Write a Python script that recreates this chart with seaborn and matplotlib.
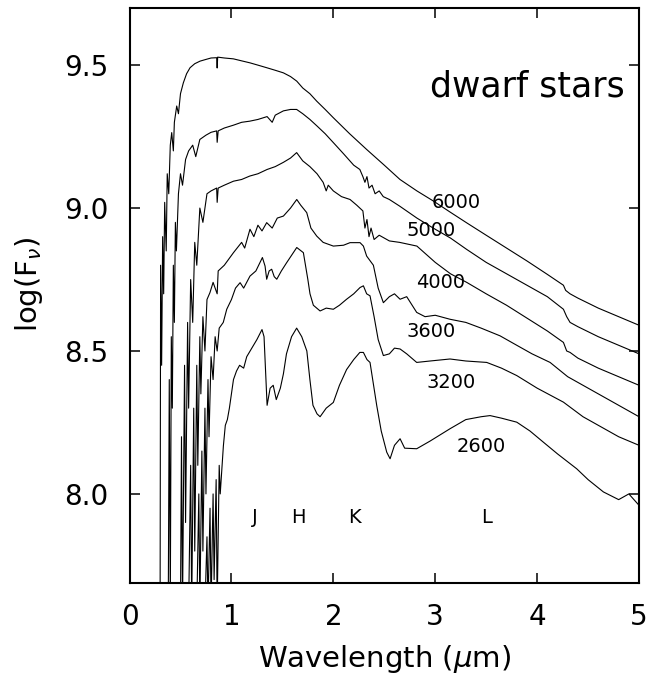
import matplotlib
matplotlib.use("Agg")
import matplotlib.pyplot as plt
import seaborn as sns
import pandas as pd

# Spectra of dwarf stars (log F_nu vs wavelength in um)
temps = ["6000", "5000", "4000", "3600", "3200", "2600"]

x_6000 = [0.30, 0.305, 0.315, 0.325, 0.335, 0.345, 0.36, 0.37, 0.385, 0.40, 0.414, 0.43, 0.44, 0.463,
          0.48, 0.50, 0.528, 0.56, 0.594, 0.64, 0.692, 0.75, 0.80, 0.855, 0.86, 0.865, 0.93, 1.019,
          1.10, 1.182, 1.26, 1.346, 1.43, 1.51, 1.58, 1.641, 1.70, 1.77, 1.837, 1.92, 2.00, 2.16,
          2.327, 2.50, 2.654, 2.82, 2.98, 3.15, 3.31, 3.50, 3.70, 3.90, 4.10, 4.258, 4.28, 4.323,
          4.40, 4.60, 4.80, 5.00]
y_6000 = [7.60, 8.80, 8.45, 8.90, 8.70, 9.02, 8.85, 9.12, 9.05, 9.22, 9.264, 9.20, 9.30, 9.357,
          9.33, 9.40, 9.438, 9.47, 9.491, 9.505, 9.514, 9.52, 9.525, 9.526, 9.49, 9.528, 9.525, 9.522,
          9.515, 9.508, 9.50, 9.491, 9.482, 9.473, 9.46, 9.444, 9.42, 9.40, 9.374, 9.345, 9.316, 9.26,
          9.205, 9.15, 9.10, 9.06, 9.025, 8.985, 8.948, 8.905, 8.86, 8.815, 8.768, 8.73, 8.712, 8.70,
          8.685, 8.65, 8.62, 8.59]

x_5000 = [0.38, 0.39, 0.40, 0.41, 0.42, 0.43, 0.44, 0.45, 0.46, 0.48, 0.50, 0.52, 0.55, 0.58,
          0.62, 0.65, 0.69, 0.75, 0.80, 0.855, 0.86, 0.87, 0.93, 1.02, 1.10, 1.18, 1.26, 1.35,
          1.40, 1.43, 1.51, 1.58, 1.64, 1.70, 1.77, 1.84, 1.92, 2.00, 2.10, 2.20, 2.26, 2.29,
          2.31, 2.33, 2.35, 2.38, 2.41, 2.45, 2.49, 2.55, 2.65, 2.82, 2.98, 3.15, 3.31, 3.50,
          3.70, 3.90, 4.10, 4.258, 4.29, 4.323, 4.40, 4.60, 4.80, 5.00]
y_5000 = [7.60, 8.40, 7.60, 8.55, 8.30, 8.80, 8.60, 8.95, 8.85, 9.05, 9.12, 9.08, 9.17, 9.20,
          9.22, 9.18, 9.24, 9.255, 9.265, 9.27, 9.23, 9.27, 9.28, 9.29, 9.30, 9.304, 9.31, 9.32,
          9.30, 9.325, 9.34, 9.345, 9.345, 9.33, 9.31, 9.287, 9.26, 9.229, 9.19, 9.15, 9.135, 9.11,
          9.09, 9.11, 9.07, 9.08, 9.05, 9.06, 9.04, 9.03, 9.007, 8.965, 8.93, 8.895, 8.855, 8.81,
          8.77, 8.73, 8.69, 8.646, 8.62, 8.60, 8.585, 8.55, 8.52, 8.49]

x_4000 = [0.50, 0.51, 0.52, 0.54, 0.55, 0.57, 0.58, 0.60, 0.62, 0.64, 0.66, 0.69, 0.72, 0.76,
          0.80, 0.855, 0.86, 0.87, 0.93, 1.02, 1.10, 1.18, 1.26, 1.35, 1.43, 1.51, 1.58, 1.64,
          1.70, 1.77, 1.84, 1.90, 1.93, 1.95, 2.00, 2.08, 2.164, 2.23, 2.29, 2.31, 2.33, 2.35,
          2.37, 2.40, 2.45, 2.55, 2.65, 2.82, 3.00, 3.15, 3.309, 3.50, 3.70, 3.90, 4.10, 4.258,
          4.29, 4.323, 4.40, 4.60, 4.80, 5.00]
y_4000 = [7.60, 8.20, 7.60, 8.45, 7.90, 8.60, 8.30, 8.75, 8.60, 8.88, 8.80, 9.00, 8.95, 9.05,
          9.06, 9.07, 9.02, 9.07, 9.08, 9.094, 9.10, 9.112, 9.12, 9.135, 9.145, 9.16, 9.175, 9.194,
          9.165, 9.145, 9.12, 9.09, 9.06, 9.08, 9.06, 9.04, 9.03, 9.01, 8.99, 8.93, 8.96, 8.90,
          8.93, 8.89, 8.905, 8.885, 8.88, 8.867, 8.81, 8.77, 8.74, 8.70, 8.66, 8.615, 8.57, 8.53,
          8.50, 8.495, 8.475, 8.44, 8.41, 8.38]

x_3600 = [0.58, 0.60, 0.61, 0.63, 0.64, 0.66, 0.67, 0.69, 0.70, 0.72, 0.74, 0.76, 0.789, 0.82,
          0.86, 0.87, 0.93, 1.02, 1.10, 1.13, 1.182, 1.22, 1.26, 1.30, 1.346, 1.40, 1.45, 1.51,
          1.58, 1.641, 1.68, 1.739, 1.78, 1.837, 1.90, 2.00, 2.10, 2.164, 2.262, 2.295, 2.327, 2.393,
          2.44, 2.491, 2.55, 2.60, 2.655, 2.72, 2.818, 2.90, 3.00, 3.145, 3.30, 3.45, 3.636, 3.80,
          3.95, 4.127, 4.30, 4.50, 4.70, 4.85, 5.00]
y_3600 = [7.60, 8.10, 7.60, 8.30, 7.80, 8.45, 8.10, 8.55, 8.35, 8.62, 8.50, 8.68, 8.704, 8.74,
          8.70, 8.78, 8.80, 8.844, 8.88, 8.86, 8.926, 8.90, 8.94, 8.92, 8.949, 8.93, 8.965, 8.972,
          9.00, 9.03, 9.01, 8.984, 8.93, 8.902, 8.88, 8.867, 8.87, 8.879, 8.879, 8.867, 8.832, 8.80,
          8.72, 8.669, 8.69, 8.70, 8.681, 8.69, 8.635, 8.62, 8.625, 8.611, 8.60, 8.58, 8.553, 8.52,
          8.49, 8.46, 8.41, 8.37, 8.33, 8.30, 8.27]

x_3200 = [0.66, 0.68, 0.69, 0.71, 0.72, 0.74, 0.75, 0.77, 0.78, 0.80, 0.82, 0.84, 0.86, 0.88,
          0.92, 0.954, 1.00, 1.04, 1.085, 1.12, 1.182, 1.24, 1.304, 1.33, 1.346, 1.37, 1.395, 1.42,
          1.445, 1.49, 1.542, 1.60, 1.641, 1.706, 1.75, 1.771, 1.804, 1.87, 1.93, 2.00, 2.06, 2.13,
          2.20, 2.262, 2.295, 2.327, 2.36, 2.40, 2.44, 2.491, 2.55, 2.60, 2.655, 2.72, 2.818, 2.95,
          3.145, 3.30, 3.505, 3.65, 3.80, 4.00, 4.258, 4.45, 4.65, 4.80, 5.00]
y_3200 = [7.60, 8.00, 7.60, 8.15, 7.80, 8.30, 8.00, 8.40, 8.20, 8.48, 8.40, 8.55, 8.50, 8.58,
          8.60, 8.646, 8.68, 8.72, 8.739, 8.72, 8.762, 8.78, 8.827, 8.797, 8.751, 8.78, 8.786, 8.76,
          8.751, 8.78, 8.809, 8.84, 8.862, 8.844, 8.75, 8.70, 8.66, 8.64, 8.65, 8.646, 8.66, 8.681,
          8.70, 8.722, 8.728, 8.70, 8.693, 8.62, 8.54, 8.484, 8.49, 8.51, 8.507, 8.49, 8.46, 8.465,
          8.472, 8.465, 8.46, 8.44, 8.414, 8.37, 8.321, 8.27, 8.23, 8.20, 8.17]

x_2600 = [0.74, 0.76, 0.77, 0.79, 0.80, 0.82, 0.83, 0.85, 0.86, 0.88, 0.89, 0.921, 0.94, 0.96,
          0.98, 1.02, 1.05, 1.08, 1.12, 1.15, 1.20, 1.25, 1.30, 1.32, 1.35, 1.38, 1.41, 1.44,
          1.48, 1.51, 1.54, 1.59, 1.64, 1.69, 1.74, 1.77, 1.80, 1.84, 1.87, 1.93, 2.00, 2.06,
          2.13, 2.20, 2.26, 2.295, 2.33, 2.36, 2.426, 2.47, 2.524, 2.557, 2.60, 2.655, 2.70, 2.818,
          2.95, 3.145, 3.30, 3.45, 3.538, 3.65, 3.80, 3.93, 4.061, 4.20, 4.388, 4.50, 4.65, 4.80,
          4.90, 5.00]
y_2600 = [7.60, 7.85, 7.60, 7.95, 7.60, 8.00, 7.70, 8.05, 7.60, 8.10, 8.00, 8.168, 8.24, 8.26,
          8.30, 8.40, 8.43, 8.45, 8.44, 8.48, 8.51, 8.54, 8.575, 8.55, 8.31, 8.37, 8.38, 8.33,
          8.37, 8.42, 8.49, 8.55, 8.58, 8.55, 8.50, 8.40, 8.31, 8.28, 8.27, 8.30, 8.32, 8.38,
          8.435, 8.47, 8.495, 8.495, 8.47, 8.46, 8.309, 8.22, 8.146, 8.123, 8.17, 8.193, 8.16, 8.158,
          8.185, 8.228, 8.26, 8.27, 8.274, 8.265, 8.251, 8.22, 8.181, 8.14, 8.088, 8.05, 8.007, 7.98,
          8.00, 7.96]

# label positions (data coords) for temperatures and band names
temp_label_x = [3.21, 2.96, 3.05, 2.96, 3.155, 3.45]
temp_label_y = [9.02, 8.922, 8.74, 8.569, 8.391, 8.167]
bands = ["J", "H", "K", "L"]
band_x = [1.23, 1.657, 2.203, 3.499]
band_y = 7.917

series = {"6000": (x_6000, y_6000), "5000": (x_5000, y_5000), "4000": (x_4000, y_4000),
          "3600": (x_3600, y_3600), "3200": (x_3200, y_3200), "2600": (x_2600, y_2600)}
df = pd.concat([pd.DataFrame({"wl": xs, "logf": ys, "temp": t}) for t, (xs, ys) in series.items()])

sns.set_style("ticks")
plt.rcParams["font.family"] = ["DejaVu Sans"]
plt.rcParams["text.color"] = "black"
plt.rcParams["axes.labelcolor"] = "black"

fig = plt.figure(figsize=(6.47, 6.81), dpi=100)
ax = fig.add_axes([0.2002, 0.1446, 0.7875, 0.8437])

sns.lineplot(data=df, x="wl", y="logf", hue="temp", palette=["black"] * len(temps),
             sort=False, estimator=None, legend=False, lw=0.8, ax=ax)

ax.set_xlim(0, 5)
ax.set_ylim(7.69, 9.70)
ax.set_xticks([0, 1, 2, 3, 4, 5])
ax.set_yticks([8.0, 8.5, 9.0, 9.5])
ax.set_yticklabels(["8.0", "8.5", "9.0", "9.5"])
ax.tick_params(direction="in", length=7, width=1.1, top=True, right=True,
               labelsize=20, pad=15, colors="black")
for s in ax.spines.values():
    s.set_linewidth(1.5)
    s.set_color("black")

ax.set_xlabel(r"Wavelength ($\mu$m)", fontsize=21, color="black")
ax.set_ylabel(r"log(F$_\nu$)", fontsize=21, color="black")
ax.xaxis.set_label_coords(0.5, -0.105)
ax.yaxis.set_label_coords(-0.165, 0.52)

ax.text(4.86, 9.39, "dwarf stars", fontsize=25, ha="right", va="baseline", color="black")
for t, lx, ly in zip(temps, temp_label_x, temp_label_y):
    ax.text(lx, ly, t, fontsize=14, ha="center", va="center", color="black")
for b, bx in zip(bands, band_x):
    ax.text(bx, band_y, b, fontsize=14, ha="center", va="center", color="black")

fig.savefig("out.png", dpi=100)
